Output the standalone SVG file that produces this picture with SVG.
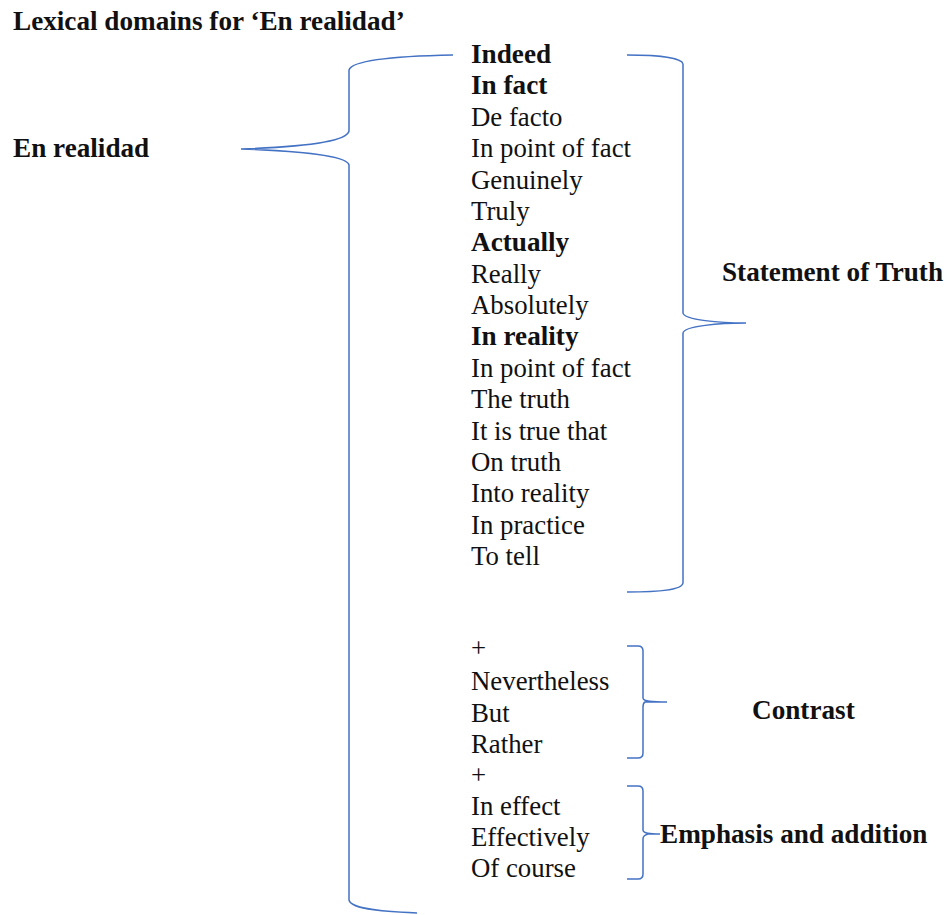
<svg xmlns="http://www.w3.org/2000/svg" width="948" height="915" viewBox="0 0 948 915" font-family="'Liberation Serif', 'DejaVu Serif', serif">
<style>
text{font-family:'Liberation Serif','DejaVu Serif',serif;font-size:26.8px;fill:#111}
.b{font-weight:bold;font-size:27.2px}
.br{fill:none;stroke:#4472C4;stroke-width:1.5}
</style>
<rect width="948" height="915" fill="#fff"/>
<text id="title" class="b" x="13" y="30">Lexical domains for ‘En realidad’</text>
<g id="root"><text class="b" x="13" y="157">En realidad</text></g>
<g id="connectors">
<path class="br" d="M453,55 C400,56 352,60 349,70 L349,131 C347,142 300,147 241,149 C300,151 347,156 349,165 L349,900 C351,910 390,912 417,913"/>
<path class="br" d="M627,55 C660,55 682,58 683,64 L683,313 C684,320 720,323 746,323 C720,323 684,326 683,333 L683,583 C682,590 660,592 627,592"/>
<path class="br" d="M627,646 L638,646 C642,646 643,648 643,651 L643,698 C643,701 650,702 667,702 L645,702 C643,703 643,705 643,707 L643,753 C643,756 642,758 638,758 L627,758"/>
<path class="br" d="M627,786 L638,786 C642,786 643,788 643,791 L643,830 C643,833 648,834 660,834 L648,834 C644,835 643,837 643,839 L643,874 C643,877 642,879 638,879 L627,879"/>
</g>
<g id="truth-list">
<text class="b" x="471" y="63">Indeed</text>
<text class="b" x="471" y="94">In fact</text>
<text x="471" y="126">De facto</text>
<text x="471" y="157">In point of fact</text>
<text x="471" y="189">Genuinely</text>
<text x="471" y="220">Truly</text>
<text class="b" x="471" y="251">Actually</text>
<text x="471" y="283">Really</text>
<text x="471" y="314">Absolutely</text>
<text class="b" x="471" y="345">In reality</text>
<text x="471" y="377">In point of fact</text>
<text x="471" y="408">The truth</text>
<text x="471" y="440">It is true that</text>
<text x="471" y="471">On truth</text>
<text x="471" y="502">Into reality</text>
<text x="471" y="534">In practice</text>
<text x="471" y="565">To tell</text>
</g>
<g id="truth"><text class="b" x="722" y="281">Statement of Truth</text></g>
<g id="contrast-list">
<text x="471" y="657">+</text>
<text x="471" y="690">Nevertheless</text>
<text x="471" y="722">But</text>
<text x="471" y="753">Rather</text>
</g>
<g id="contrast"><text class="b" x="752" y="719">Contrast</text></g>
<g id="emphasis-list">
<text x="471" y="784">+</text>
<text x="471" y="815">In effect</text>
<text x="471" y="846">Effectively</text>
<text x="471" y="877">Of course</text>
</g>
<g id="emphasis"><text class="b" x="660" y="843">Emphasis and addition</text></g>
</svg>
